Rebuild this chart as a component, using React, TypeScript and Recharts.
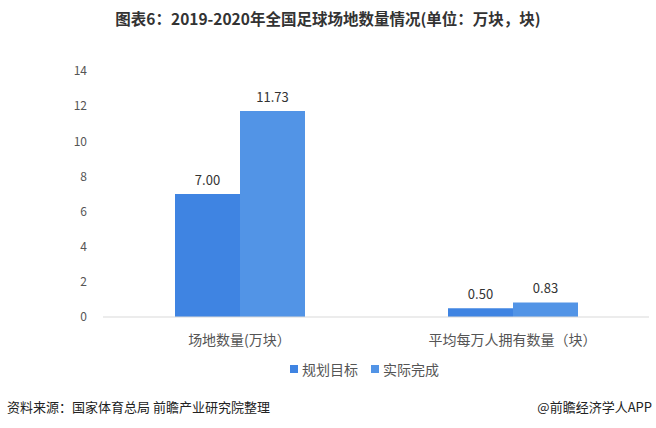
import { BarChart, Bar, XAxis, YAxis, LabelList } from 'recharts';

const categories = ['场地数量(万块）', '平均每万人拥有数量（块）'];
const planned = [7.0, 0.5];
const actual = [11.73, 0.83];
const yTicks = [0, 2, 4, 6, 8, 10, 12, 14];

const data = categories.map((name, i) => ({
  name,
  planned: planned[i],
  actual: actual[i],
}));

const fmt = (v: any) => Number(v).toFixed(2);

export default function App() {
  return (
    <div
      style={{
        position: 'absolute',
        left: 0,
        top: 0,
        width: 656,
        height: 428,
        background: '#fff',
        fontFamily: '"Noto Sans CJK SC", "Noto Sans", sans-serif',
      }}
    >
      <div
        style={{
          position: 'absolute',
          top: 7,
          width: 656,
          textAlign: 'center',
          fontSize: 15.5,
          fontWeight: 'bold',
          color: '#333',
        }}
      >
        图表6：2019-2020年全国足球场地数量情况(单位：万块，块)
      </div>
      <div style={{ position: 'absolute', top: 0, left: 0 }}>
        <BarChart
          width={656}
          height={428}
          data={data}
          margin={{ top: 71, right: 7, left: 0, bottom: 81 }}
          barGap={0}
          barSize={65}
        >
          <YAxis
            width={103}
            domain={[0, 14]}
            ticks={yTicks}
            axisLine={false}
            tickLine={false}
            tickMargin={10}
            tick={{ fill: '#555', fontSize: 12 }}
          />
          <XAxis
            dataKey="name"
            axisLine={{ stroke: '#d9d9d9' }}
            tickLine={false}
            tickMargin={12}
            tick={{ fill: '#555', fontSize: 14 }}
          />
          <Bar dataKey="planned" fill="#3f84e2" isAnimationActive={false}>
            <LabelList dataKey="planned" position="top" offset={9} formatter={fmt} style={{ fill: '#333', fontSize: 13 }} />
          </Bar>
          <Bar dataKey="actual" fill="#5294e6" isAnimationActive={false}>
            <LabelList dataKey="actual" position="top" offset={9} formatter={fmt} style={{ fill: '#333', fontSize: 13 }} />
          </Bar>
        </BarChart>
      </div>
      <div
        style={{
          position: 'absolute',
          top: 359,
          left: 290,
          display: 'flex',
          alignItems: 'center',
          fontSize: 14,
          color: '#555',
        }}
      >
        <span style={{ width: 8, height: 8, background: '#3f84e2', marginRight: 4, display: 'inline-block' }} />
        <span style={{ marginRight: 13 }}>规划目标</span>
        <span style={{ width: 8, height: 8, background: '#5294e6', marginRight: 4, display: 'inline-block' }} />
        <span>实际完成</span>
      </div>
      <div style={{ position: 'absolute', top: 397, left: 7, fontSize: 13, color: '#222' }}>
        资料来源：国家体育总局 前瞻产业研究院整理
      </div>
      <div style={{ position: 'absolute', top: 397, right: 4, fontSize: 13, color: '#222' }}>
        @前瞻经济学人APP
      </div>
    </div>
  );
}
